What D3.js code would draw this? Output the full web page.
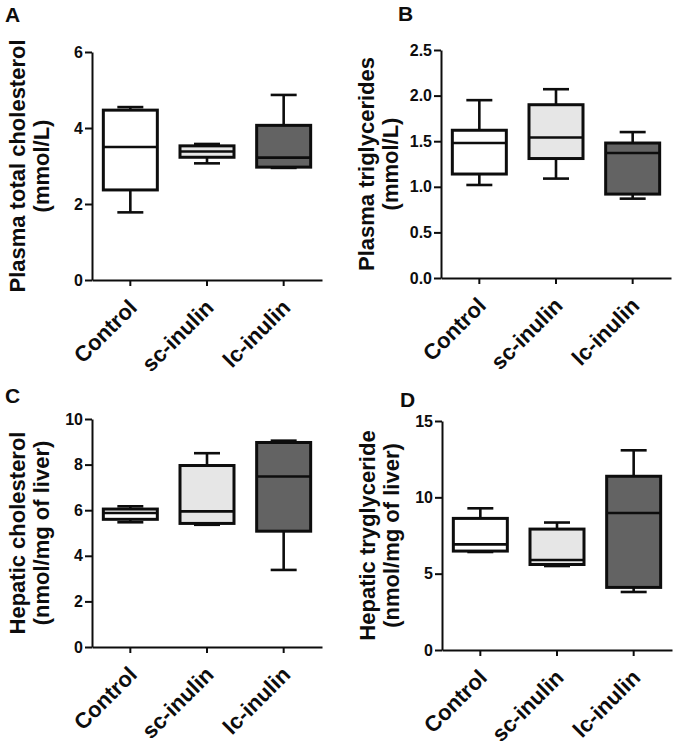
<!DOCTYPE html>
<html>
<head>
<meta charset="utf-8">
<script src="https://cdn.jsdelivr.net/npm/d3@7"></script>
<style>
  html, body { margin: 0; padding: 0; background: #fff; }
  svg { display: block; font-family: "Liberation Sans", Arial, sans-serif; }
</style>
</head>
<body>
<svg id="chart" width="675" height="746"></svg>
<script>
// ---------- data ----------
const categories = ["Control", "sc-inulin", "lc-inulin"];
const fills = ["#ffffff", "#e6e6e6", "#636363"];

// each entry: [min, q1, median, q3, max]
const plasmaCholesterol = [
  [1.78, 2.37, 3.50, 4.47, 4.55],
  [3.07, 3.23, 3.38, 3.53, 3.58],
  [2.95, 2.97, 3.22, 4.07, 4.87]
];
const plasmaTriglycerides = [
  [1.02, 1.14, 1.48, 1.62, 1.95],
  [1.09, 1.31, 1.54, 1.90, 2.07],
  [0.87, 0.92, 1.37, 1.48, 1.60]
];
const hepaticCholesterol = [
  [5.47, 5.60, 5.88, 6.05, 6.17],
  [5.36, 5.42, 5.95, 7.96, 8.50],
  [3.38, 5.08, 7.48, 8.97, 9.05]
];
const hepaticTriglyceride = [
  [6.42, 6.48, 6.92, 8.62, 9.28],
  [5.50, 5.60, 5.90, 7.92, 8.35],
  [3.80, 4.10, 8.97, 11.38, 13.08]
];

const ticksA = [0, 2, 4, 6];
const ticksB = [0, 0.5, 1.0, 1.5, 2.0, 2.5];
const ticksC = [0, 2, 4, 6, 8, 10];
const ticksD = [0, 5, 10, 15];

const panels = [
  { letter: "A", data: plasmaCholesterol, ticks: ticksA, fmt: d3.format("d"),
    title: ["Plasma total cholesterol", "(mmol/L)"],
    ax: 92, top: 52, bottom: 280, lx: 5, ly: 22 },
  { letter: "B", data: plasmaTriglycerides, ticks: ticksB, fmt: d3.format(".1f"),
    title: ["Plasma triglycerides", "(mmol/L)"],
    ax: 441, top: 50, bottom: 278, lx: 398, ly: 21 },
  { letter: "C", data: hepaticCholesterol, ticks: ticksC, fmt: d3.format("d"),
    title: ["Hepatic cholesterol", "(nmol/mg of liver)"],
    ax: 92, top: 419, bottom: 647, lx: 5, ly: 403 },
  { letter: "D", data: hepaticTriglyceride, ticks: ticksD, fmt: d3.format("d"),
    title: ["Hepatic tryglyceride", "(nmol/mg of liver)"],
    ax: 442, top: 421, bottom: 650, lx: 400, ly: 407 }
];

const svg = d3.select("#chart");
const plotW = 230;
const ink = "#0d0d0d";

panels.forEach(p => {
  const g = svg.append("g").attr("transform", `translate(${p.ax},0)`);
  const yMax = p.ticks[p.ticks.length - 1];
  const y = d3.scaleLinear().domain([0, yMax]).range([p.bottom, p.top]);
  const x = d3.scaleBand().domain(categories).range([0, plotW]).padding(0);
  const bw = 54, cw = 26;

  // boxes
  categories.forEach((c, i) => {
    const s = p.data[i];
    const cx = x(c) + x.bandwidth() / 2;
    const bg = g.append("g");
    // whiskers
    bg.append("line").attr("x1", cx).attr("x2", cx).attr("y1", y(s[0])).attr("y2", y(s[1]))
      .attr("stroke", ink).attr("stroke-width", 2.6);
    bg.append("line").attr("x1", cx).attr("x2", cx).attr("y1", y(s[3])).attr("y2", y(s[4]))
      .attr("stroke", ink).attr("stroke-width", 2.6);
    [s[0], s[4]].forEach(v => {
      bg.append("line").attr("x1", cx - cw / 2).attr("x2", cx + cw / 2)
        .attr("y1", y(v)).attr("y2", y(v))
        .attr("stroke", ink).attr("stroke-width", 2.6);
    });
    // box
    bg.append("rect").attr("x", cx - bw / 2).attr("width", bw)
      .attr("y", y(s[3])).attr("height", y(s[1]) - y(s[3]))
      .attr("fill", fills[i]).attr("stroke", ink).attr("stroke-width", 3);
    // median
    bg.append("line").attr("x1", cx - bw / 2).attr("x2", cx + bw / 2)
      .attr("y1", y(s[2])).attr("y2", y(s[2]))
      .attr("stroke", ink).attr("stroke-width", 2.6);
  });

  // y axis
  const yAxis = g.append("g").call(d3.axisLeft(y).tickValues(p.ticks).tickFormat(p.fmt)
    .tickSizeInner(7).tickSizeOuter(0).tickPadding(2));
  yAxis.select(".domain").attr("stroke", ink).attr("stroke-width", 2);
  yAxis.selectAll(".tick line").attr("stroke", ink).attr("stroke-width", 2);
  yAxis.selectAll(".tick text").attr("fill", ink).attr("font-size", 16).attr("font-weight", "bold");

  // x axis
  const xAxis = g.append("g").attr("transform", `translate(0,${p.bottom})`)
    .call(d3.axisBottom(x).tickSizeInner(6).tickSizeOuter(0).tickPadding(0));
  xAxis.select(".domain").attr("stroke", ink).attr("stroke-width", 2);
  xAxis.selectAll(".tick line").attr("stroke", ink).attr("stroke-width", 2);
  xAxis.selectAll(".tick text")
    .attr("fill", ink).attr("font-size", 22).attr("font-weight", "bold")
    .attr("text-anchor", "end")
    .attr("dy", 0).attr("y", 0)
    .attr("transform", "translate(8,29) rotate(-45)");

  // y title
  const cy = (p.top + p.bottom) / 2;
  g.append("text").attr("transform", `translate(-67,${cy}) rotate(-90)`)
    .attr("text-anchor", "middle").attr("font-size", 22).attr("font-weight", "bold")
    .attr("fill", ink).text(p.title[0]);
  g.append("text").attr("transform", `translate(-43,${cy}) rotate(-90)`)
    .attr("text-anchor", "middle").attr("font-size", 22).attr("font-weight", "bold")
    .attr("fill", ink).text(p.title[1]);

  // panel letter
  svg.append("text").attr("x", p.lx).attr("y", p.ly)
    .attr("font-size", 21).attr("font-weight", "bold").attr("fill", ink).text(p.letter);
});
</script>
</body>
</html>
